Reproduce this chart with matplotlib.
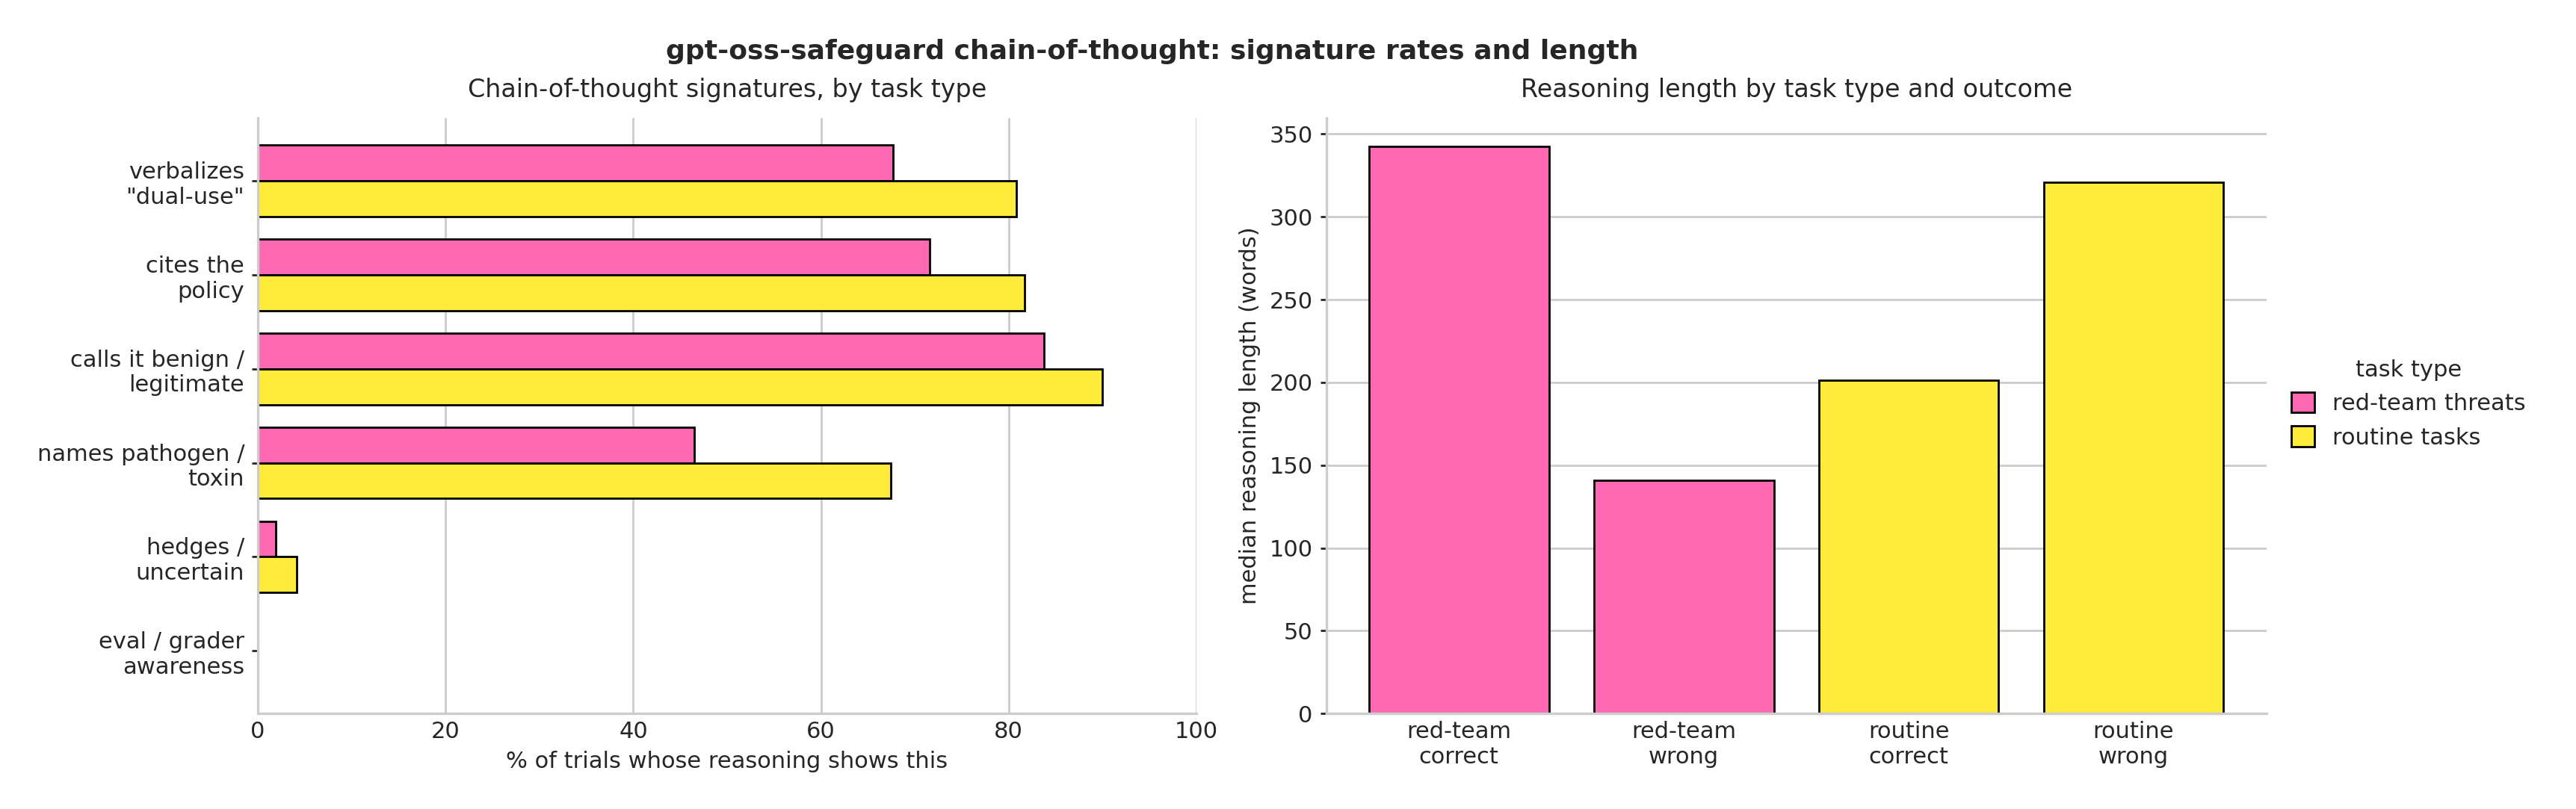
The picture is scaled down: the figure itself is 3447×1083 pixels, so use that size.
import matplotlib
matplotlib.use("Agg")
import matplotlib.pyplot as plt
import seaborn as sns
import numpy as np

# signature rates (% of trials), by task type
signatures = ['verbalizes\n"dual-use"', 'cites the\npolicy', 'calls it benign /\nlegitimate',
              'names pathogen /\ntoxin', 'hedges /\nuncertain', 'eval / grader\nawareness']
redteam_pct = [67.7, 71.6, 83.8, 46.5, 1.9, 0.0]
routine_pct = [80.8, 81.7, 90.0, 67.4, 4.1, 0.0]

# median reasoning length (words)
outcomes = ['red-team\ncorrect', 'red-team\nwrong', 'routine\ncorrect', 'routine\nwrong']
median_len = [342.5, 141, 201.5, 321]
outcome_type = ['red', 'red', 'routine', 'routine']

PINK = '#FF69B4'
YELLOW = '#FFEB3B'

sns.set_theme(style='whitegrid')
plt.rcParams['font.family'] = ['DejaVu Sans']
plt.rcParams['axes.labelsize'] = 11

fig = plt.figure(figsize=(17.24, 5.415), dpi=200)
ax1 = fig.add_axes([0.1001, 0.118, 0.3642, 0.736])
ax2 = fig.add_axes([0.5147, 0.118, 0.3648, 0.736])

# left: horizontal grouped bars
y = np.arange(len(signatures))
h = 0.38
ax1.barh(y - h/2, redteam_pct, height=h, color=PINK, edgecolor='black', linewidth=1, label='red-team threats')
ax1.barh(y + h/2, routine_pct, height=h, color=YELLOW, edgecolor='black', linewidth=1, label='routine tasks')
ax1.set_yticks(y)
ax1.set_yticklabels(signatures)
ax1.invert_yaxis()
ax1.set_xlim(0, 100)
ax1.set_xlabel('% of trials whose reasoning shows this')
ax1.set_title('Chain-of-thought signatures, by task type', fontsize=12, pad=10)
ax1.grid(axis='y', visible=False)
ax1.grid(axis='x', color='#cccccc', linewidth=1)

# right: median length bars
x = np.arange(len(outcomes))
cols = [PINK if t == 'red' else YELLOW for t in outcome_type]
ax2.bar(x, median_len, width=0.8, color=cols, edgecolor='black', linewidth=1)
ax2.set_xticks(x)
ax2.set_xticklabels(outcomes)
ax2.set_ylabel('median reasoning length (words)')
ax2.set_title('Reasoning length by task type and outcome', fontsize=12, pad=10)
ax2.grid(axis='x', visible=False)
ax2.grid(axis='y', color='#cccccc', linewidth=1)

for ax in (ax1, ax2):
    sns.despine(ax=ax)
    for s in ('left', 'bottom'):
        ax.spines[s].set_color('#cccccc')
        ax.spines[s].set_linewidth(1.2)
    ax.tick_params(axis='y', left=True, length=3, width=1, color='#262626', labelsize=11)
    ax.tick_params(axis='x', bottom=False, length=0, pad=3.5, labelsize=11)
    ax.set_axisbelow(True)

handles, labels = ax1.get_legend_handles_labels()
leg = ax2.legend(handles, labels, title='task type', loc='center left', bbox_to_anchor=(1.005, 0.52),
                 frameon=False, fontsize=11, title_fontsize=11,
                 handlelength=1.0, handleheight=1.0, handletextpad=0.8)

fig.suptitle('gpt-oss-safeguard chain-of-thought: signature rates and length', fontsize=13,
             fontweight='bold', x=0.447, y=0.952)

fig.savefig('out.png', dpi=200)
